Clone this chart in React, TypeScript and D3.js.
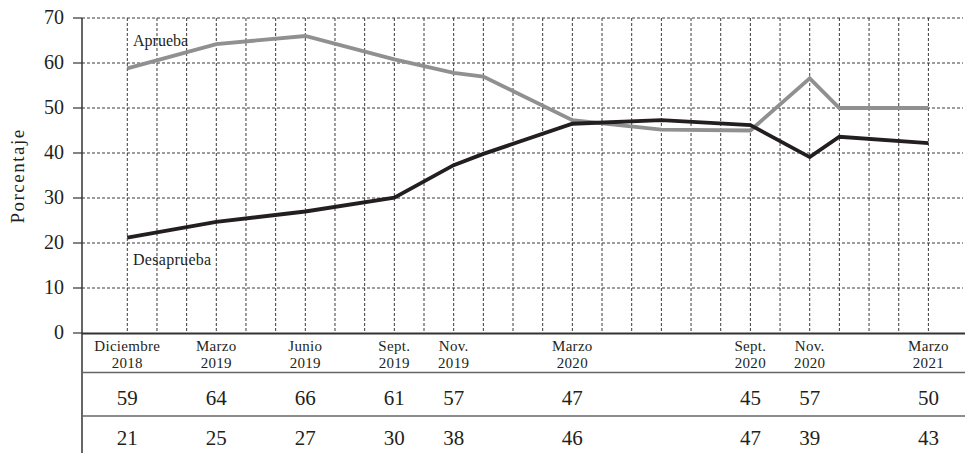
import React from "react";
import * as d3 from "d3";

// Table categories (month index from Dec 2018)
const categoryMonths = [0, 3, 6, 9, 11, 15, 21, 23, 27];
const categoryMonthLabels = ["Diciembre", "Marzo", "Junio", "Sept.", "Nov.", "Marzo", "Sept.", "Nov.", "Marzo"];
const categoryYearLabels = ["2018", "2019", "2019", "2019", "2019", "2020", "2020", "2020", "2021"];
const tableAprueba = [59, 64, 66, 61, 57, 47, 45, 57, 50];
const tableDesaprueba = [21, 25, 27, 30, 38, 46, 47, 39, 43];

// Line series (as drawn)
const apruebaMonths = [0, 3, 6, 9, 11, 12, 15, 18, 21, 23, 24, 27];
const apruebaValues = [58.8, 64.2, 66, 60.8, 57.8, 57.0, 47.3, 45.2, 45.0, 56.6, 50, 50];
const desapruebaMonths = [0, 3, 6, 9, 11, 12, 15, 18, 21, 23, 24, 27];
const desapruebaValues = [21.2, 24.7, 27.0, 30.1, 37.3, 39.8, 46.5, 47.3, 46.2, 39.1, 43.6, 42.2];

const yTicks = [0, 10, 20, 30, 40, 50, 60, 70];
const gridMonths = d3.range(0, 28);

const W = 965;
const H = 453;
const FONT = "'Liberation Serif', 'DejaVu Serif', serif";

export default function App() {
  const axisX = 82;
  const x = d3.scaleLinear().domain([0, 27]).range([127.3, 928.4]);
  const y = d3.scaleLinear().domain([0, 70]).range([333, 18]);
  const line = d3
    .line<[number, number]>()
    .x((d) => x(d[0]))
    .y((d) => y(d[1]));
  const aprPts = apruebaMonths.map((m, i) => [m, apruebaValues[i]] as [number, number]);
  const desPts = desapruebaMonths.map((m, i) => [m, desapruebaValues[i]] as [number, number]);
  const textColor = "#231f20";

  return (
    <svg
      width={W}
      height={H}
      style={{ position: "absolute", left: 0, top: 0, background: "#fff" }}
      fontFamily={FONT}
    >
      {/* horizontal gridlines */}
      {yTicks
        .filter((t) => t > 0)
        .map((t) => (
          <line
            key={"h" + t}
            x1={axisX}
            x2={963}
            y1={y(t)}
            y2={y(t)}
            stroke="#3a3a3a"
            strokeWidth={1}
            strokeDasharray="3,2"
          />
        ))}
      {/* vertical gridlines */}
      {gridMonths.map((m) => (
        <line
          key={"v" + m}
          x1={x(m)}
          x2={x(m)}
          y1={y(70)}
          y2={y(0)}
          stroke="#3a3a3a"
          strokeWidth={1}
          strokeDasharray="3,2"
        />
      ))}
      {/* y ticks and labels */}
      {yTicks.map((t) => (
        <g key={"t" + t}>
          <line x1={73} x2={axisX} y1={y(t)} y2={y(t)} stroke="#333" strokeWidth={1.2} />
          <text x={64} y={y(t) + 6} textAnchor="end" fontSize={20} fill={textColor}>
            {t}
          </text>
        </g>
      ))}
      <text
        transform={`translate(24,176) rotate(-90)`}
        textAnchor="middle"
        fontSize={19}
        letterSpacing={1.5}
        fill={textColor}
      >
        Porcentaje
      </text>
      {/* lines */}
      <path d={line(aprPts) || ""} fill="none" stroke="#909090" strokeWidth={3.8} />
      <path d={line(desPts) || ""} fill="none" stroke="#231f20" strokeWidth={3.8} />
      <text x={133} y={45.5} fontSize={16} fill={textColor}>
        Aprueba
      </text>
      <text x={133} y={265} fontSize={16} fill={textColor} letterSpacing={0.3}>
        Desaprueba
      </text>
      {/* axes */}
      <line x1={axisX} x2={axisX} y1={y(70)} y2={H} stroke="#333" strokeWidth={1.5} />
      <line x1={axisX} x2={W} y1={y(0) + 0.5} y2={y(0) + 0.5} stroke="#333" strokeWidth={2} />
      {/* table */}
      <line x1={axisX} x2={W} y1={372.5} y2={372.5} stroke="#666" strokeWidth={1.5} />
      <line x1={axisX} x2={W} y1={416} y2={416} stroke="#666" strokeWidth={1.5} />
      {categoryMonths.map((m, i) => (
        <g key={"c" + i}>
          <text x={x(m)} y={350.5} textAnchor="middle" fontSize={15} fill={textColor} letterSpacing={0.3}>
            {categoryMonthLabels[i]}
          </text>
          <text x={x(m)} y={367.5} textAnchor="middle" fontSize={15} fill={textColor} letterSpacing={0.3}>
            {categoryYearLabels[i]}
          </text>
          <text x={x(m)} y={405} textAnchor="middle" fontSize={21} fill={textColor}>
            {tableAprueba[i]}
          </text>
          <text x={x(m)} y={445} textAnchor="middle" fontSize={21} fill={textColor}>
            {tableDesaprueba[i]}
          </text>
        </g>
      ))}
    </svg>
  );
}
